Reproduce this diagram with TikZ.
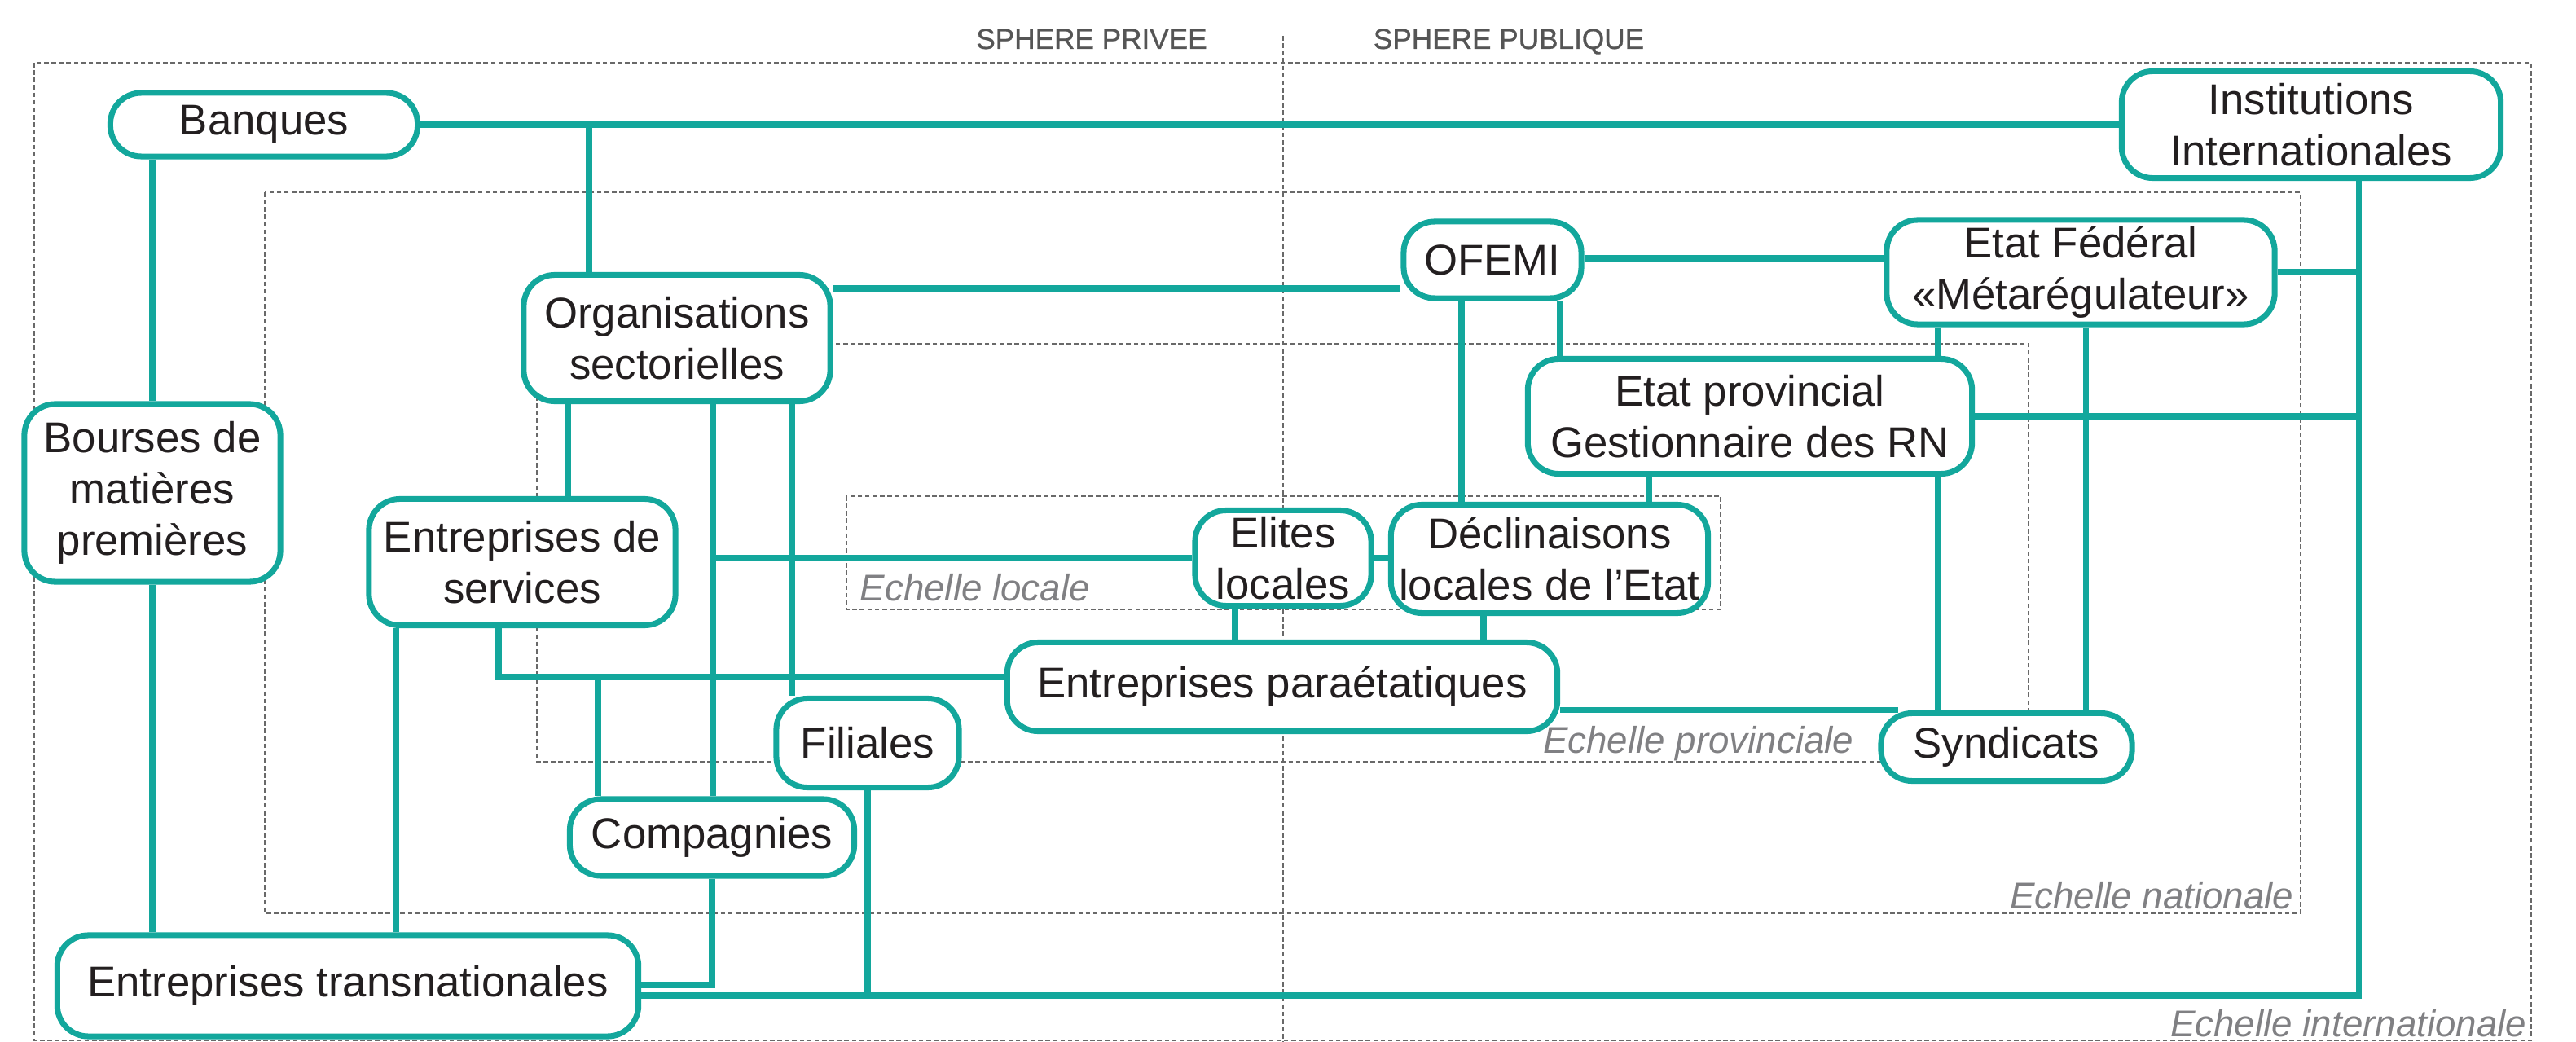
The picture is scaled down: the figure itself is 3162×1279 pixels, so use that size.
\documentclass[tikz,border=0pt]{standalone}
\usepackage{fontspec}
\setmainfont{Liberation Sans}
\newfontfamily\demigras[FakeBold=0.8]{Liberation Sans}
\definecolor{vert}{RGB}{19,167,156}
\definecolor{trait}{RGB}{105,105,105}
\definecolor{legende}{RGB}{128,128,131}
\definecolor{grisfonce}{RGB}{85,85,85}
\definecolor{texte}{RGB}{35,31,32}

\begin{document}
\begin{tikzpicture}[x=0.01cm, y=-0.01cm,
		box/.style={draw=vert, line width=2pt, fill=white, rounded corners=0.38cm, align=center, inner sep=0pt, text=texte, font=\fontsize{15}{18}\selectfont},
		link/.style={draw=vert, line width=2pt},
		zone/.style={draw=trait, line width=0.8pt, dash pattern=on 1.6pt off 1pt},
		echelle/.style={text=legende, inner sep=0pt, font=\fontsize{13}{15}\selectfont\itshape},
		titre/.style={text=grisfonce, inner sep=0pt, font=\demigras\fontsize{10}{12}\selectfont}]
	\useasboundingbox (0,0) rectangle (3162,1279);
	\draw[zone] (42,77) rectangle (3107,1277);
	\draw[zone] (325,236) rectangle (2824,1121);
	\draw[zone] (659,422) rectangle (2490,935);
	\draw[zone] (1039,609) rectangle (2112,748);
	\draw[zone] (1575,44) -- (1575,1279);
	\node[name=prive, titre, anchor=base] at (1340,60) {SPHERE PRIVEE};
	\node[name=public, titre, anchor=base] at (1852,60) {SPHERE PUBLIQUE};
	\node[name=einter, echelle, anchor=base east] at (3102,1272) {Echelle internationale};
	\node[name=enat, echelle, anchor=base east] at (2816,1115) {Echelle nationale};
	\node[name=eprov, echelle, anchor=base east] at (2276,924) {Echelle provinciale};
	\node[name=eloc, echelle, anchor=base west] at (1055,737) {Echelle locale};

	\node[name=banq, box, minimum width=3.77cm, minimum height=0.78cm] at (324,153) {Banques};
	\node[name=inst, box, minimum width=4.65cm, minimum height=1.31cm] at (2837,153) {Institutions\\Internationales};
	\node[name=ofemi, box, minimum width=2.18cm, minimum height=0.94cm] at (1832,319) {OFEMI};
	\node[name=fed, box, minimum width=4.76cm, minimum height=1.28cm] at (2554,334) {Etat Fédéral\\«Métarégulateur»};
	\node[name=org, box, minimum width=3.76cm, minimum height=1.55cm] at (831,415) {Organisations\\sectorielles};
	\node[name=prov, box, minimum width=5.45cm, minimum height=1.41cm] at (2148,511) {Etat provincial\\Gestionnaire des RN};
	\node[name=bours, box, minimum width=3.14cm, minimum height=2.18cm] at (187,605) {Bourses de\\matières\\premières};
	\node[name=serv, box, minimum width=3.76cm, minimum height=1.55cm] at (641,690) {Entreprises de\\services};
	\node[name=elit, box, minimum width=2.16cm, minimum height=1.17cm] at (1575,685) {Elites\\locales};
	\node[name=decl, box, minimum width=3.89cm, minimum height=1.33cm] at (1902,686) {Déclinaisons\\locales de l’Etat};
	\node[name=para, box, minimum width=6.75cm, minimum height=1.09cm] at (1574,843) {Entreprises paraétatiques};
	\node[name=fil, box, minimum width=2.24cm, minimum height=1.09cm] at (1065,912) {Filiales};
	\node[name=synd, box, minimum width=3.08cm, minimum height=0.83cm] at (2463,917) {Syndicats};
	\node[name=comp, box, minimum width=3.49cm, minimum height=0.94cm] at (874,1028) {Compagnies};
	\node[name=etn, box, minimum width=7.13cm, minimum height=1.24cm] at (427,1210) {Entreprises transnationales};

	\draw[link] (banq.east) -- (inst.west |- banq.east);
	\draw[link] (org.north -| 723,0) -- (723,0 |- banq.east);
	\draw[link] (bours.north) -- (bours.north |- banq.south);
	\draw[link] (bours.south) -- (bours.south |- etn.north);
	\draw[link] (org.east |- 0,354) -- (ofemi.west |- 0,354);
	\draw[link] (ofemi.east |- 0,317) -- (fed.west |- 0,317);
	\draw[link] (inst.south -| 2895,0) |- (etn.east |- 0,1222);
	\draw[link] (fed.east) -- (fed.east -| 2895,0);
	\draw[link] (prov.east) -- (prov.east -| 2895,0);
	\draw[link] (ofemi.south -| 1794,0) -- (decl.north -| 1794,0);
	\draw[link] (ofemi.south -| 1915,0) -- (prov.north -| 1915,0);
	\draw[link] (fed.south -| 2378,0) -- (prov.north -| 2378,0);
	\draw[link] (prov.south -| 2378,0) -- (synd.north -| 2378,0);
	\draw[link] (fed.south -| 2560,0) -- (synd.north -| 2560,0);
	\draw[link] (prov.south -| 2024,0) -- (decl.north -| 2024,0);
	\draw[link] (elit.east) -- (decl.west |- elit.east);
	\draw[link] (elit.south -| 1516,0) -- (para.north -| 1516,0);
	\draw[link] (decl.south -| 1821,0) -- (para.north -| 1821,0);
	\draw[link] (para.east |- synd.north) -- (2330,0 |- synd.north);
	\draw[link] (org.south -| 697,0) -- (serv.north -| 697,0);
	\draw[link] (org.south -| 875,0) -- (comp.north -| 875,0);
	\draw[link] (org.south -| 972,0) -- (fil.north -| 972,0);
	\draw[link] (875,0 |- elit.west) -- (elit.west);
	\draw[link] (serv.south -| 612,0) |- (para.west |- 0,831);
	\draw[link] (734,831) -- (comp.north -| 734,0);
	\draw[link] (serv.south -| 486,0) -- (etn.north -| 486,0);
	\draw[link] (comp.south) |- (etn.east |- 0,1209);
	\draw[link] (fil.south) -- (fil.south |- 0,1222);
\end{tikzpicture}
\end{document}
